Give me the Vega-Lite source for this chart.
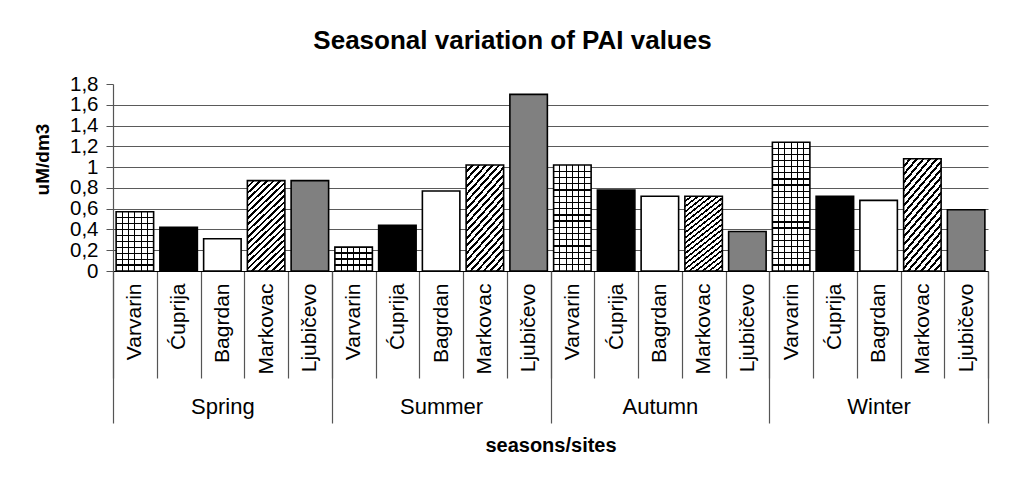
{
  "$schema": "https://vega.github.io/schema/vega-lite/v6.json",
  "width": 875,
  "height": 187,
  "autosize": "none",
  "padding": {"left": 113, "top": 84, "right": 21, "bottom": 209},
  "background": "#ffffff",
  "title": {"text": "Seasonal variation of PAI values", "fontSize": 26, "fontWeight": "bold", "font": "Liberation Sans", "anchor": "middle", "frame": "group", "dx": -38, "offset": -1, "baseline": "alphabetic", "color": "#000"},
  "config": {"font": "Liberation Sans", "view": {"stroke": null}, "axis": {"labelFont": "Liberation Sans", "titleFont": "Liberation Sans", "labelColor": "#000", "titleColor": "#000"}},
  "data": {"values": [
    {"season": "Spring", "site": "Varvarin", "key": "Spring|Varvarin", "v": 0.57},
    {"season": "Spring", "site": "Ćuprija", "key": "Spring|Ćuprija", "v": 0.42},
    {"season": "Spring", "site": "Bagrdan", "key": "Spring|Bagrdan", "v": 0.31},
    {"season": "Spring", "site": "Markovac", "key": "Spring|Markovac", "v": 0.87},
    {"season": "Spring", "site": "Ljubičevo", "key": "Spring|Ljubičevo", "v": 0.87},
    {"season": "Summer", "site": "Varvarin", "key": "Summer|Varvarin", "v": 0.23},
    {"season": "Summer", "site": "Ćuprija", "key": "Summer|Ćuprija", "v": 0.44},
    {"season": "Summer", "site": "Bagrdan", "key": "Summer|Bagrdan", "v": 0.77},
    {"season": "Summer", "site": "Markovac", "key": "Summer|Markovac", "v": 1.02},
    {"season": "Summer", "site": "Ljubičevo", "key": "Summer|Ljubičevo", "v": 1.70},
    {"season": "Autumn", "site": "Varvarin", "key": "Autumn|Varvarin", "v": 1.02},
    {"season": "Autumn", "site": "Ćuprija", "key": "Autumn|Ćuprija", "v": 0.78},
    {"season": "Autumn", "site": "Bagrdan", "key": "Autumn|Bagrdan", "v": 0.72},
    {"season": "Autumn", "site": "Markovac", "key": "Autumn|Markovac", "v": 0.72},
    {"season": "Autumn", "site": "Ljubičevo", "key": "Autumn|Ljubičevo", "v": 0.38},
    {"season": "Winter", "site": "Varvarin", "key": "Winter|Varvarin", "v": 1.24},
    {"season": "Winter", "site": "Ćuprija", "key": "Winter|Ćuprija", "v": 0.72},
    {"season": "Winter", "site": "Bagrdan", "key": "Winter|Bagrdan", "v": 0.68},
    {"season": "Winter", "site": "Markovac", "key": "Winter|Markovac", "v": 1.08},
    {"season": "Winter", "site": "Ljubičevo", "key": "Winter|Ljubičevo", "v": 0.59}
  ]},
  "layer": [
    {
      "encoding": {
        "x": {"field": "key", "type": "nominal",
          "scale": {"domain": ["Spring|Varvarin","Spring|Ćuprija","Spring|Bagrdan","Spring|Markovac","Spring|Ljubičevo","Summer|Varvarin","Summer|Ćuprija","Summer|Bagrdan","Summer|Markovac","Summer|Ljubičevo","Autumn|Varvarin","Autumn|Ćuprija","Autumn|Bagrdan","Autumn|Markovac","Autumn|Ljubičevo","Winter|Varvarin","Winter|Ćuprija","Winter|Bagrdan","Winter|Markovac","Winter|Ljubičevo"], "paddingInner": 0, "paddingOuter": 0},
          "axis": {"orient": "bottom", "title": null, "labelExpr": "split(datum.label, '|')[1]", "labelAngle": -90, "labelAlign": "right", "labelBaseline": "middle", "labelFontSize": 21, "labelPadding": -95, "tickBand": "extent", "tickSize": 107, "tickColor": "#555", "tickWidth": 1.2, "domainColor": "#000", "domainWidth": 1.2, "labelOverlap": false}},
        "y": {"field": "v", "type": "quantitative",
          "scale": {"domain": [0, 1.8], "nice": false},
          "axis": {"title": "uM/dm3", "titleFontSize": 19, "titleFontWeight": "bold", "titleAngle": 270, "titleAlign": "center", "titleBaseline": "middle", "titleX": -71, "titleY": 75,
            "values": [0, 0.2, 0.4, 0.6, 0.8, 1, 1.2, 1.4, 1.6, 1.8],
            "labelExpr": "replace(format(datum.value, '~g'), '.', ',')", "labelFontSize": 20.5, "labelPadding": 8, "tickSize": 7, "tickColor": "#555", "domainColor": "#555", "domainWidth": 1.2, "labelOverlap": false,
            "grid": true, "gridColor": "#5a5a5a", "gridWidth": 1.2, "gridOpacity": {"condition": {"test": "datum.value >= 1.79", "value": 0}, "value": 1}}}
      },
      "layer": [
        {
          "mark": {"type": "bar", "width": {"band": 0.857}, "stroke": "#000", "strokeWidth": 1.6},
          "encoding": {
            "fill": {"condition": [
              {"test": "datum.site === 'Varvarin'", "value": {"gradient": "linear", "x1": 0, "y1": 0, "x2": 1, "y2": 0, "stops": [
                {"offset": 0, "color": "#fff"},
                {"offset": 0.1507, "color": "#fff"}, {"offset": 0.1507, "color": "#000"}, {"offset": 0.1827, "color": "#000"}, {"offset": 0.1827, "color": "#fff"},
                {"offset": 0.3173, "color": "#fff"}, {"offset": 0.3173, "color": "#000"}, {"offset": 0.3493, "color": "#000"}, {"offset": 0.3493, "color": "#fff"},
                {"offset": 0.484, "color": "#fff"}, {"offset": 0.484, "color": "#000"}, {"offset": 0.516, "color": "#000"}, {"offset": 0.516, "color": "#fff"},
                {"offset": 0.6507, "color": "#fff"}, {"offset": 0.6507, "color": "#000"}, {"offset": 0.6827, "color": "#000"}, {"offset": 0.6827, "color": "#fff"},
                {"offset": 0.8173, "color": "#fff"}, {"offset": 0.8173, "color": "#000"}, {"offset": 0.8493, "color": "#000"}, {"offset": 0.8493, "color": "#fff"},
                {"offset": 1, "color": "#fff"}]}},
              {"test": "datum.site === 'Ćuprija'", "value": "#000000"},
              {"test": "datum.site === 'Bagrdan'", "value": "#ffffff"},
              {"test": "datum.site === 'Markovac'", "value": {"gradient": "linear", "x1": 0, "y1": 0, "x2": 0.476, "y2": 1.207, "stops": [
                {"offset": 0, "color": "#fff"},
                {"offset": 0.04, "color": "#fff"}, {"offset": 0.04, "color": "#000"}, {"offset": 0.06, "color": "#000"}, {"offset": 0.06, "color": "#fff"},
                {"offset": 0.09, "color": "#fff"}, {"offset": 0.09, "color": "#000"}, {"offset": 0.11, "color": "#000"}, {"offset": 0.11, "color": "#fff"},
                {"offset": 0.14, "color": "#fff"}, {"offset": 0.14, "color": "#000"}, {"offset": 0.16, "color": "#000"}, {"offset": 0.16, "color": "#fff"},
                {"offset": 0.19, "color": "#fff"}, {"offset": 0.19, "color": "#000"}, {"offset": 0.21, "color": "#000"}, {"offset": 0.21, "color": "#fff"},
                {"offset": 0.24, "color": "#fff"}, {"offset": 0.24, "color": "#000"}, {"offset": 0.26, "color": "#000"}, {"offset": 0.26, "color": "#fff"},
                {"offset": 0.29, "color": "#fff"}, {"offset": 0.29, "color": "#000"}, {"offset": 0.31, "color": "#000"}, {"offset": 0.31, "color": "#fff"},
                {"offset": 0.34, "color": "#fff"}, {"offset": 0.34, "color": "#000"}, {"offset": 0.36, "color": "#000"}, {"offset": 0.36, "color": "#fff"},
                {"offset": 0.39, "color": "#fff"}, {"offset": 0.39, "color": "#000"}, {"offset": 0.41, "color": "#000"}, {"offset": 0.41, "color": "#fff"},
                {"offset": 0.44, "color": "#fff"}, {"offset": 0.44, "color": "#000"}, {"offset": 0.46, "color": "#000"}, {"offset": 0.46, "color": "#fff"},
                {"offset": 0.49, "color": "#fff"}, {"offset": 0.49, "color": "#000"}, {"offset": 0.51, "color": "#000"}, {"offset": 0.51, "color": "#fff"},
                {"offset": 0.54, "color": "#fff"}, {"offset": 0.54, "color": "#000"}, {"offset": 0.56, "color": "#000"}, {"offset": 0.56, "color": "#fff"},
                {"offset": 0.59, "color": "#fff"}, {"offset": 0.59, "color": "#000"}, {"offset": 0.61, "color": "#000"}, {"offset": 0.61, "color": "#fff"},
                {"offset": 0.64, "color": "#fff"}, {"offset": 0.64, "color": "#000"}, {"offset": 0.66, "color": "#000"}, {"offset": 0.66, "color": "#fff"},
                {"offset": 0.69, "color": "#fff"}, {"offset": 0.69, "color": "#000"}, {"offset": 0.71, "color": "#000"}, {"offset": 0.71, "color": "#fff"},
                {"offset": 0.74, "color": "#fff"}, {"offset": 0.74, "color": "#000"}, {"offset": 0.76, "color": "#000"}, {"offset": 0.76, "color": "#fff"},
                {"offset": 0.79, "color": "#fff"}, {"offset": 0.79, "color": "#000"}, {"offset": 0.81, "color": "#000"}, {"offset": 0.81, "color": "#fff"},
                {"offset": 0.84, "color": "#fff"}, {"offset": 0.84, "color": "#000"}, {"offset": 0.86, "color": "#000"}, {"offset": 0.86, "color": "#fff"},
                {"offset": 0.89, "color": "#fff"}, {"offset": 0.89, "color": "#000"}, {"offset": 0.91, "color": "#000"}, {"offset": 0.91, "color": "#fff"},
                {"offset": 0.94, "color": "#fff"}, {"offset": 0.94, "color": "#000"}, {"offset": 0.96, "color": "#000"}, {"offset": 0.96, "color": "#fff"},
                {"offset": 1, "color": "#fff"}]}}
            ], "value": "#808080"}
          }
        },
        {
          "transform": [{"filter": "datum.site === 'Varvarin'"}],
          "mark": {"type": "bar", "width": {"band": 0.857}, "strokeOpacity": 0},
          "encoding": {
            "fill": {"condition": [
              {"test": "datum.season === 'Spring'", "value": {"gradient": "linear", "x1": 0, "y1": 0, "x2": 0, "y2": 1, "stops": [
                {"offset": 0, "color": "rgba(0,0,0,0)"},
                {"offset": 0.09, "color": "rgba(0,0,0,0)"}, {"offset": 0.09, "color": "#000"}, {"offset": 0.11, "color": "#000"}, {"offset": 0.11, "color": "rgba(0,0,0,0)"},
                {"offset": 0.19, "color": "rgba(0,0,0,0)"}, {"offset": 0.19, "color": "#000"}, {"offset": 0.21, "color": "#000"}, {"offset": 0.21, "color": "rgba(0,0,0,0)"},
                {"offset": 0.29, "color": "rgba(0,0,0,0)"}, {"offset": 0.29, "color": "#000"}, {"offset": 0.31, "color": "#000"}, {"offset": 0.31, "color": "rgba(0,0,0,0)"},
                {"offset": 0.39, "color": "rgba(0,0,0,0)"}, {"offset": 0.39, "color": "#000"}, {"offset": 0.41, "color": "#000"}, {"offset": 0.41, "color": "rgba(0,0,0,0)"},
                {"offset": 0.49, "color": "rgba(0,0,0,0)"}, {"offset": 0.49, "color": "#000"}, {"offset": 0.51, "color": "#000"}, {"offset": 0.51, "color": "rgba(0,0,0,0)"},
                {"offset": 0.59, "color": "rgba(0,0,0,0)"}, {"offset": 0.59, "color": "#000"}, {"offset": 0.61, "color": "#000"}, {"offset": 0.61, "color": "rgba(0,0,0,0)"},
                {"offset": 0.69, "color": "rgba(0,0,0,0)"}, {"offset": 0.69, "color": "#000"}, {"offset": 0.71, "color": "#000"}, {"offset": 0.71, "color": "rgba(0,0,0,0)"},
                {"offset": 0.79, "color": "rgba(0,0,0,0)"}, {"offset": 0.79, "color": "#000"}, {"offset": 0.81, "color": "#000"}, {"offset": 0.81, "color": "rgba(0,0,0,0)"},
                {"offset": 0.89, "color": "rgba(0,0,0,0)"}, {"offset": 0.89, "color": "#000"}, {"offset": 0.91, "color": "#000"}, {"offset": 0.91, "color": "rgba(0,0,0,0)"},
                {"offset": 1, "color": "rgba(0,0,0,0)"}]}},
              {"test": "datum.season === 'Summer'", "value": {"gradient": "linear", "x1": 0, "y1": 0, "x2": 0, "y2": 1, "stops": [
                {"offset": 0, "color": "rgba(0,0,0,0)"},
                {"offset": 0.225, "color": "rgba(0,0,0,0)"}, {"offset": 0.225, "color": "#000"}, {"offset": 0.275, "color": "#000"}, {"offset": 0.275, "color": "rgba(0,0,0,0)"},
                {"offset": 0.475, "color": "rgba(0,0,0,0)"}, {"offset": 0.475, "color": "#000"}, {"offset": 0.525, "color": "#000"}, {"offset": 0.525, "color": "rgba(0,0,0,0)"},
                {"offset": 0.725, "color": "rgba(0,0,0,0)"}, {"offset": 0.725, "color": "#000"}, {"offset": 0.775, "color": "#000"}, {"offset": 0.775, "color": "rgba(0,0,0,0)"},
                {"offset": 1, "color": "rgba(0,0,0,0)"}]}},
              {"test": "datum.season === 'Autumn'", "value": {"gradient": "linear", "x1": 0, "y1": 0, "x2": 0, "y2": 1, "stops": [
                {"offset": 0, "color": "rgba(0,0,0,0)"},
                {"offset": 0.0528, "color": "rgba(0,0,0,0)"}, {"offset": 0.0528, "color": "#000"}, {"offset": 0.0648, "color": "#000"}, {"offset": 0.0648, "color": "rgba(0,0,0,0)"},
                {"offset": 0.1116, "color": "rgba(0,0,0,0)"}, {"offset": 0.1116, "color": "#000"}, {"offset": 0.1236, "color": "#000"}, {"offset": 0.1236, "color": "rgba(0,0,0,0)"},
                {"offset": 0.1705, "color": "rgba(0,0,0,0)"}, {"offset": 0.1705, "color": "#000"}, {"offset": 0.1825, "color": "#000"}, {"offset": 0.1825, "color": "rgba(0,0,0,0)"},
                {"offset": 0.2293, "color": "rgba(0,0,0,0)"}, {"offset": 0.2293, "color": "#000"}, {"offset": 0.2413, "color": "#000"}, {"offset": 0.2413, "color": "rgba(0,0,0,0)"},
                {"offset": 0.2881, "color": "rgba(0,0,0,0)"}, {"offset": 0.2881, "color": "#000"}, {"offset": 0.3001, "color": "#000"}, {"offset": 0.3001, "color": "rgba(0,0,0,0)"},
                {"offset": 0.3469, "color": "rgba(0,0,0,0)"}, {"offset": 0.3469, "color": "#000"}, {"offset": 0.3589, "color": "#000"}, {"offset": 0.3589, "color": "rgba(0,0,0,0)"},
                {"offset": 0.4058, "color": "rgba(0,0,0,0)"}, {"offset": 0.4058, "color": "#000"}, {"offset": 0.4178, "color": "#000"}, {"offset": 0.4178, "color": "rgba(0,0,0,0)"},
                {"offset": 0.4646, "color": "rgba(0,0,0,0)"}, {"offset": 0.4646, "color": "#000"}, {"offset": 0.4766, "color": "#000"}, {"offset": 0.4766, "color": "rgba(0,0,0,0)"},
                {"offset": 0.5234, "color": "rgba(0,0,0,0)"}, {"offset": 0.5234, "color": "#000"}, {"offset": 0.5354, "color": "#000"}, {"offset": 0.5354, "color": "rgba(0,0,0,0)"},
                {"offset": 0.5822, "color": "rgba(0,0,0,0)"}, {"offset": 0.5822, "color": "#000"}, {"offset": 0.5942, "color": "#000"}, {"offset": 0.5942, "color": "rgba(0,0,0,0)"},
                {"offset": 0.6411, "color": "rgba(0,0,0,0)"}, {"offset": 0.6411, "color": "#000"}, {"offset": 0.6531, "color": "#000"}, {"offset": 0.6531, "color": "rgba(0,0,0,0)"},
                {"offset": 0.6999, "color": "rgba(0,0,0,0)"}, {"offset": 0.6999, "color": "#000"}, {"offset": 0.7119, "color": "#000"}, {"offset": 0.7119, "color": "rgba(0,0,0,0)"},
                {"offset": 0.7587, "color": "rgba(0,0,0,0)"}, {"offset": 0.7587, "color": "#000"}, {"offset": 0.7707, "color": "#000"}, {"offset": 0.7707, "color": "rgba(0,0,0,0)"},
                {"offset": 0.8175, "color": "rgba(0,0,0,0)"}, {"offset": 0.8175, "color": "#000"}, {"offset": 0.8295, "color": "#000"}, {"offset": 0.8295, "color": "rgba(0,0,0,0)"},
                {"offset": 0.8764, "color": "rgba(0,0,0,0)"}, {"offset": 0.8764, "color": "#000"}, {"offset": 0.8884, "color": "#000"}, {"offset": 0.8884, "color": "rgba(0,0,0,0)"},
                {"offset": 0.9352, "color": "rgba(0,0,0,0)"}, {"offset": 0.9352, "color": "#000"}, {"offset": 0.9472, "color": "#000"}, {"offset": 0.9472, "color": "rgba(0,0,0,0)"},
                {"offset": 1, "color": "rgba(0,0,0,0)"}]}}
            ], "value": {"gradient": "linear", "x1": 0, "y1": 0, "x2": 0, "y2": 1, "stops": [
                {"offset": 0, "color": "rgba(0,0,0,0)"},
                {"offset": 0.0426, "color": "rgba(0,0,0,0)"}, {"offset": 0.0426, "color": "#000"}, {"offset": 0.0526, "color": "#000"}, {"offset": 0.0526, "color": "rgba(0,0,0,0)"},
                {"offset": 0.0902, "color": "rgba(0,0,0,0)"}, {"offset": 0.0902, "color": "#000"}, {"offset": 0.1002, "color": "#000"}, {"offset": 0.1002, "color": "rgba(0,0,0,0)"},
                {"offset": 0.1379, "color": "rgba(0,0,0,0)"}, {"offset": 0.1379, "color": "#000"}, {"offset": 0.1479, "color": "#000"}, {"offset": 0.1479, "color": "rgba(0,0,0,0)"},
                {"offset": 0.1855, "color": "rgba(0,0,0,0)"}, {"offset": 0.1855, "color": "#000"}, {"offset": 0.1955, "color": "#000"}, {"offset": 0.1955, "color": "rgba(0,0,0,0)"},
                {"offset": 0.2331, "color": "rgba(0,0,0,0)"}, {"offset": 0.2331, "color": "#000"}, {"offset": 0.2431, "color": "#000"}, {"offset": 0.2431, "color": "rgba(0,0,0,0)"},
                {"offset": 0.2807, "color": "rgba(0,0,0,0)"}, {"offset": 0.2807, "color": "#000"}, {"offset": 0.2907, "color": "#000"}, {"offset": 0.2907, "color": "rgba(0,0,0,0)"},
                {"offset": 0.3283, "color": "rgba(0,0,0,0)"}, {"offset": 0.3283, "color": "#000"}, {"offset": 0.3383, "color": "#000"}, {"offset": 0.3383, "color": "rgba(0,0,0,0)"},
                {"offset": 0.376, "color": "rgba(0,0,0,0)"}, {"offset": 0.376, "color": "#000"}, {"offset": 0.386, "color": "#000"}, {"offset": 0.386, "color": "rgba(0,0,0,0)"},
                {"offset": 0.4236, "color": "rgba(0,0,0,0)"}, {"offset": 0.4236, "color": "#000"}, {"offset": 0.4336, "color": "#000"}, {"offset": 0.4336, "color": "rgba(0,0,0,0)"},
                {"offset": 0.4712, "color": "rgba(0,0,0,0)"}, {"offset": 0.4712, "color": "#000"}, {"offset": 0.4812, "color": "#000"}, {"offset": 0.4812, "color": "rgba(0,0,0,0)"},
                {"offset": 0.5188, "color": "rgba(0,0,0,0)"}, {"offset": 0.5188, "color": "#000"}, {"offset": 0.5288, "color": "#000"}, {"offset": 0.5288, "color": "rgba(0,0,0,0)"},
                {"offset": 0.5664, "color": "rgba(0,0,0,0)"}, {"offset": 0.5664, "color": "#000"}, {"offset": 0.5764, "color": "#000"}, {"offset": 0.5764, "color": "rgba(0,0,0,0)"},
                {"offset": 0.614, "color": "rgba(0,0,0,0)"}, {"offset": 0.614, "color": "#000"}, {"offset": 0.624, "color": "#000"}, {"offset": 0.624, "color": "rgba(0,0,0,0)"},
                {"offset": 0.6617, "color": "rgba(0,0,0,0)"}, {"offset": 0.6617, "color": "#000"}, {"offset": 0.6717, "color": "#000"}, {"offset": 0.6717, "color": "rgba(0,0,0,0)"},
                {"offset": 0.7093, "color": "rgba(0,0,0,0)"}, {"offset": 0.7093, "color": "#000"}, {"offset": 0.7193, "color": "#000"}, {"offset": 0.7193, "color": "rgba(0,0,0,0)"},
                {"offset": 0.7569, "color": "rgba(0,0,0,0)"}, {"offset": 0.7569, "color": "#000"}, {"offset": 0.7669, "color": "#000"}, {"offset": 0.7669, "color": "rgba(0,0,0,0)"},
                {"offset": 0.8045, "color": "rgba(0,0,0,0)"}, {"offset": 0.8045, "color": "#000"}, {"offset": 0.8145, "color": "#000"}, {"offset": 0.8145, "color": "rgba(0,0,0,0)"},
                {"offset": 0.8521, "color": "rgba(0,0,0,0)"}, {"offset": 0.8521, "color": "#000"}, {"offset": 0.8621, "color": "#000"}, {"offset": 0.8621, "color": "rgba(0,0,0,0)"},
                {"offset": 0.8998, "color": "rgba(0,0,0,0)"}, {"offset": 0.8998, "color": "#000"}, {"offset": 0.9098, "color": "#000"}, {"offset": 0.9098, "color": "rgba(0,0,0,0)"},
                {"offset": 0.9474, "color": "rgba(0,0,0,0)"}, {"offset": 0.9474, "color": "#000"}, {"offset": 0.9574, "color": "#000"}, {"offset": 0.9574, "color": "rgba(0,0,0,0)"},
                {"offset": 1, "color": "rgba(0,0,0,0)"}]}}
          }
        }
      ]
    },
    {
      "mark": {"type": "bar", "opacity": 0},
      "encoding": {
        "x": {"field": "season", "type": "nominal", "sort": ["Spring", "Summer", "Autumn", "Winter"],
          "scale": {"paddingInner": 0, "paddingOuter": 0},
          "axis": {"orient": "bottom", "title": "seasons/sites", "titleFontSize": 20, "titleFontWeight": "bold", "titlePadding": 12, "labelAngle": 0, "labelFontSize": 22, "labelPadding": -27, "tickBand": "extent", "tickSize": 152, "tickColor": "#555", "tickWidth": 1.2, "domain": false}}
      }
    }
  ],
  "resolve": {"scale": {"x": "independent"}, "axis": {"x": "independent"}}
}
